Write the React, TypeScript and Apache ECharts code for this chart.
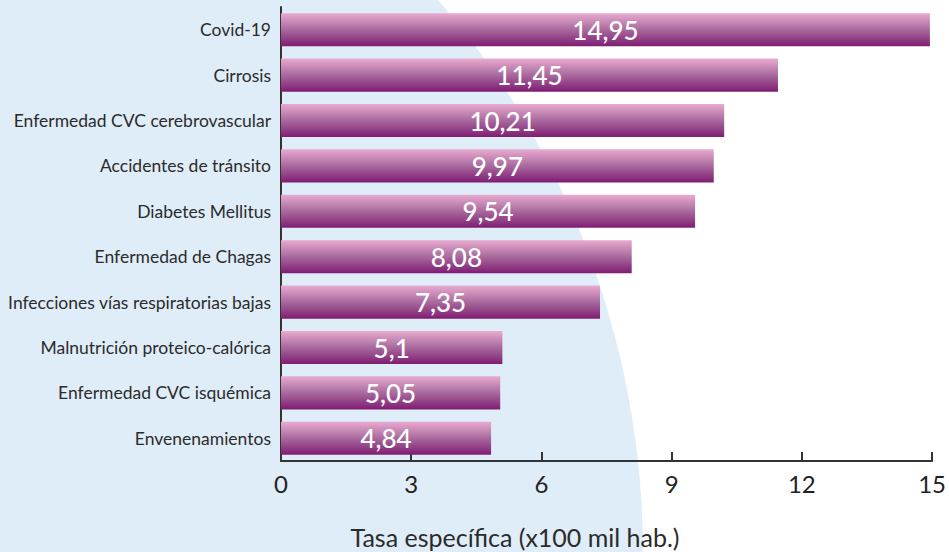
import React, { useEffect, useRef } from "react";
import * as echarts from "echarts";

const categories = [
  "Covid-19",
  "Cirrosis",
  "Enfermedad CVC cerebrovascular",
  "Accidentes de tránsito",
  "Diabetes Mellitus",
  "Enfermedad de Chagas",
  "Infecciones vías respiratorias bajas",
  "Malnutrición proteico-calórica",
  "Enfermedad CVC isquémica",
  "Envenenamientos",
];
const values = [14.95, 11.45, 10.21, 9.97, 9.54, 8.08, 7.35, 5.1, 5.05, 4.84];
const axisTitle = "Tasa específica (x100 mil hab.)";

export default function App() {
  const ref = useRef<HTMLDivElement>(null);
  useEffect(() => {
    if (!ref.current) return;
    const chart = echarts.init(ref.current, null, { renderer: "svg" });
    chart.setOption({
      animation: false,
      backgroundColor: "#ffffff",
      graphic: [
        {
          type: "circle",
          z: -10,
          silent: true,
          shape: { cx: -206, cy: 553, r: 849 },
          style: { fill: "#dfedf8" },
        },
        {
          type: "text",
          x: 515,
          y: 537,
          style: {
            text: axisTitle,
            fill: "#2b2b2b",
            font: "25px Lato",
            textAlign: "center",
            textVerticalAlign: "middle",
          },
        },
      ],
      grid: { left: 281, right: 11, top: 7, bottom: 91, containLabel: false },
      xAxis: {
        type: "value",
        min: 0,
        max: 15,
        interval: 3,
        axisLine: { show: true, lineStyle: { color: "#333", width: 2 } },
        axisTick: { show: true, inside: true, length: 9, lineStyle: { color: "#333", width: 2 } },
        axisLabel: { color: "#222", fontSize: 24, fontFamily: "Lato", margin: 10 },
        splitLine: { show: false },
      },
      yAxis: {
        type: "category",
        data: categories,
        inverse: true,
        axisLine: { show: true, lineStyle: { color: "#333", width: 2 } },
        axisTick: { show: false },
        axisLabel: { color: "#2b2b2b", fontSize: 17.5, fontFamily: "Lato", margin: 10 },
      },
      series: [
        {
          type: "bar",
          data: values,
          barWidth: "73%",
          itemStyle: {
            color: new echarts.graphic.LinearGradient(0, 0, 0, 1, [
              { offset: 0, color: "#e9abd0" },
              { offset: 0.5, color: "#a86a9d" },
              { offset: 1, color: "#7f1c73" },
            ]),
          },
          label: {
            show: true,
            position: "inside",
            color: "#ffffff",
            fontSize: 26,
            fontFamily: "Lato",
            fontWeight: 500,
            formatter: (p: any) => String(p.value).replace(".", ","),
          },
        },
      ],
    });
    return () => chart.dispose();
  }, []);
  return (
    <div
      ref={ref}
      style={{ position: "absolute", left: 0, top: 0, width: 949, height: 552 }}
    />
  );
}
